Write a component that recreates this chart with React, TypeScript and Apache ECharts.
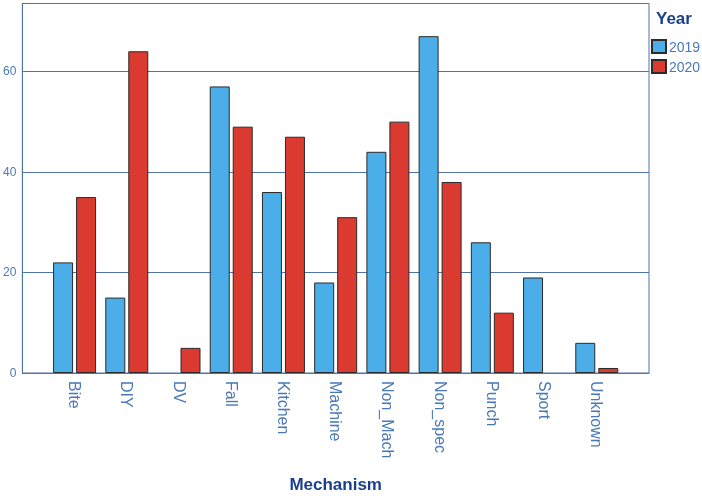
import React, { useEffect, useRef } from "react";
import * as echarts from "echarts";

const categories = ["Bite", "DIY", "DV", "Fall", "Kitchen", "Machine", "Non_Mach", "Non_spec", "Punch", "Sport", "Unknown"];
const values2019 = [22, 15, 0, 57, 36, 18, 44, 67, 26, 19, 6];
const values2020 = [35, 64, 5, 49, 47, 31, 50, 38, 12, 0, 1];
const seriesNames = ["2019", "2020"];
const yTicks = [0, 20, 40, 60];

const FONT = "'Liberation Sans', Arial, sans-serif";
const LINE = "#4f72a8";
const LABEL = "#4a79b6";
const TITLE = "#1b3f8f";
const BLUE = "#4baee8";
const RED = "#da3a2f";
const BORDER = "#2b2b2b";

function toData(vals: number[]) {
  return vals.map((v, i) => ({
    value: [i, v],
    itemStyle: v === 0 ? { borderWidth: 0 } : undefined,
  }));
}

export default function App() {
  const ref = useRef<HTMLDivElement>(null);
  useEffect(() => {
    if (!ref.current) return;
    const chart = echarts.init(ref.current, undefined, { renderer: "svg" });
    chart.setOption({
      animation: false,
      textStyle: { fontFamily: FONT },
      title: {
        text: "Year",
        left: 656,
        top: 10,
        padding: 0,
        textStyle: { fontFamily: FONT, fontSize: 17, fontWeight: "bold", color: TITLE },
      },
      legend: {
        orient: "vertical",
        left: 651,
        top: 39,
        padding: 0,
        icon: "rect",
        itemWidth: 14,
        itemHeight: 13,
        itemGap: 5,
        textStyle: { fontFamily: FONT, fontSize: 14, color: LABEL, lineHeight: 13, padding: [0, 0, 0, -2] },
        data: seriesNames,
      },
      grid: {
        left: 21,
        right: 53,
        top: 3.5,
        bottom: 122,
        show: true,
        borderColor: LINE,
        borderWidth: 1,
        backgroundColor: "transparent",
      },
      xAxis: {
        type: "value",
        min: -1,
        max: 11,
        interval: 1,
        axisLine: { show: true, onZero: false, lineStyle: { color: LINE } },
        axisTick: { show: false },
        splitLine: { show: false },
        axisLabel: {
          rotate: -90,
          margin: 8,
          fontSize: 16,
          fontFamily: FONT,
          color: LABEL,
          formatter: (v: number) => (Number.isInteger(v) && categories[v] !== undefined ? categories[v] : ""),
        },
        name: "Mechanism",
        nameLocation: "middle",
        nameGap: 103,
        nameTextStyle: { fontFamily: FONT, fontSize: 17, fontWeight: "bold", color: TITLE },
      },
      yAxis: {
        type: "value",
        min: 0,
        max: 73.5,
        interval: 20,
        axisLine: { show: true, onZero: false, lineStyle: { color: LINE } },
        axisTick: { show: false },
        splitLine: { show: true, lineStyle: { color: LINE, width: 1 } },
        axisLabel: {
          fontSize: 12,
          margin: 6,
          fontFamily: FONT,
          color: LABEL,
          formatter: (v: number) => (yTicks.includes(v) ? String(v) : ""),
        },
      },
      series: [
        {
          name: seriesNames[0],
          type: "bar",
          barWidth: 20,
          barGap: "15%",
          data: toData(values2019),
          itemStyle: { color: BLUE, borderColor: BORDER, borderWidth: 1 },
        },
        {
          name: seriesNames[1],
          type: "bar",
          barWidth: 20,
          barGap: "15%",
          data: toData(values2020),
          itemStyle: { color: RED, borderColor: BORDER, borderWidth: 1 },
        },
      ],
    });
    return () => chart.dispose();
  }, []);
  return <div ref={ref} style={{ position: "fixed", left: 0, top: 0, width: 702, height: 498 }} />;
}
